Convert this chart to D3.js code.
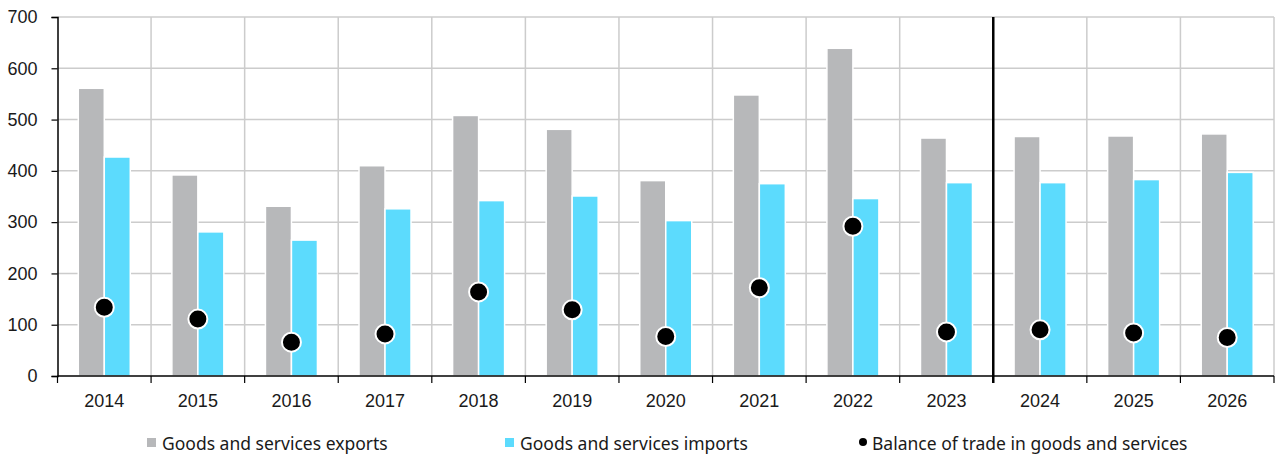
<!DOCTYPE html>
<html>
<head>
<meta charset="utf-8">
<script src="https://cdn.jsdelivr.net/npm/d3@7"></script>
<style>
  body { margin: 0; background: #fff; }
  svg { display: block; font-family: "Noto Sans", "Open Sans", sans-serif; }
  .grid line { stroke: #cccccc; stroke-width: 1.5px; }
  .axis text { font-size: 18px; fill: #1a1a1a; }
  .legend text { font-size: 17.5px; fill: #1a1a1a; }
</style>
</head>
<body>
<div class="graph"></div>
<script>
const years = ["2014","2015","2016","2017","2018","2019","2020","2021","2022","2023","2024","2025","2026"];
const exportsVals = [561, 392, 331, 410, 508, 481, 381, 548, 639, 464, 467, 468, 472];
const importsVals = [427, 281, 265, 326, 342, 351, 303, 375, 346, 377, 377, 383, 397];
const balanceVals = [134, 111, 66, 82, 164, 129, 77, 172, 292, 86, 90, 84, 75];
const yTicks = [0, 100, 200, 300, 400, 500, 600, 700];
const forecastStart = "2024";
const seriesNames = ["Goods and services exports", "Goods and services imports", "Balance of trade in goods and services"];
const colors = {exports: "#b7b8ba", imports: "#5cdbfd", balance: "#000000"};

let margin = {top: 17, right: 4, bottom: 83, left: 57.5},
    width = 1278 - margin.left - margin.right,
    height = 459 - margin.top - margin.bottom;

let svg = d3.select(".graph").append("svg")
    .attr("width", 1278)
    .attr("height", 459);

let g = svg.append("g")
    .attr("transform", "translate(" + margin.left + "," + margin.top + ")");

let x = d3.scaleBand().domain(years).range([0, width]).padding(0);
let y = d3.scaleLinear().domain([0, 700]).range([height, 0]);

// inner scale for the two bars in each year
let x1 = d3.scaleBand()
    .domain(["exports", "imports"])
    .range([x.bandwidth() / 2 - 26, x.bandwidth() / 2 + 26]);

// gridlines
let grid = g.append("g").attr("class", "grid");
grid.selectAll(".hg")
    .data(yTicks.filter(d => d > 0))
    .enter().append("line")
    .attr("x1", 0).attr("x2", width)
    .attr("y1", d => y(d)).attr("y2", d => y(d));
grid.selectAll(".vg")
    .data(years.slice(1).concat(["end"]))
    .enter().append("line")
    .filter(d => d !== forecastStart)
    .attr("x1", d => d === "end" ? width : x(d))
    .attr("x2", d => d === "end" ? width : x(d))
    .attr("y1", 0).attr("y2", height);

let rows = years.map((yr, i) => ({year: yr, exports: exportsVals[i], imports: importsVals[i], balance: balanceVals[i]}));

// bars
let groups = g.selectAll(".year")
    .data(rows)
    .enter().append("g")
    .attr("transform", d => "translate(" + x(d.year) + ",0)");

groups.selectAll("rect")
    .data(d => ["exports", "imports"].map(k => ({key: k, value: d[k]})))
    .enter().append("rect")
    .attr("x", d => x1(d.key))
    .attr("y", d => y(d.value))
    .attr("width", x1.bandwidth())
    .attr("height", d => y(0) - y(d.value))
    .attr("fill", d => colors[d.key])
    .attr("stroke", "#fff")
    .style("stroke-width", "1.5px");

// forecast divider
g.append("line")
    .attr("x1", x(forecastStart)).attr("x2", x(forecastStart))
    .attr("y1", 0).attr("y2", height + 7)
    .attr("stroke", "#000")
    .style("stroke-width", "2.5px");

// axes
g.append("g")
    .attr("class", "axis")
    .attr("transform", "translate(0," + height + ")")
    .call(d3.axisBottom(x).tickSize(0).tickPadding(18))
    .call(a => a.select(".domain").remove());

let xAxisLine = g.append("g");
xAxisLine.append("line")
    .attr("x1", 0).attr("x2", width)
    .attr("y1", height).attr("y2", height)
    .attr("stroke", "#000").style("stroke-width", "1.5px");
xAxisLine.selectAll(".xt")
    .data(years.concat(["end"]))
    .enter().append("line")
    .attr("x1", d => d === "end" ? width : x(d))
    .attr("x2", d => d === "end" ? width : x(d))
    .attr("y1", height).attr("y2", height + 7)
    .attr("stroke", "#000").style("stroke-width", "1.2px");

g.append("g")
    .attr("class", "axis")
    .call(d3.axisLeft(y).tickValues(yTicks).tickSize(6).tickPadding(14).tickFormat(d3.format("d")))
    .call(a => a.select(".domain").attr("stroke", "#000").style("stroke-width", "1.5px"))
    .call(a => a.selectAll(".tick line").attr("stroke", "#000").style("stroke-width", "1.2px"));

// balance markers
g.selectAll(".marker")
    .data(rows)
    .enter().append("circle")
    .attr("cx", d => x(d.year) + x.bandwidth() / 2)
    .attr("cy", d => y(d.balance))
    .attr("r", 9.5)
    .attr("fill", colors.balance)
    .attr("stroke", "#fff")
    .style("stroke-width", "2px");

// legend
let legend = svg.append("g").attr("class", "legend");
legend.append("rect").attr("x", 147).attr("y", 438).attr("width", 9).attr("height", 9).attr("fill", colors.exports);
legend.append("text").attr("x", 162).attr("y", 449.5).text(seriesNames[0]);
legend.append("rect").attr("x", 505).attr("y", 438).attr("width", 9).attr("height", 9).attr("fill", colors.imports);
legend.append("text").attr("x", 520).attr("y", 449.5).text(seriesNames[1]);
legend.append("circle").attr("cx", 863).attr("cy", 442).attr("r", 4).attr("fill", colors.balance);
legend.append("text").attr("x", 872).attr("y", 449.5).text(seriesNames[2]);
</script>
</body>
</html>
